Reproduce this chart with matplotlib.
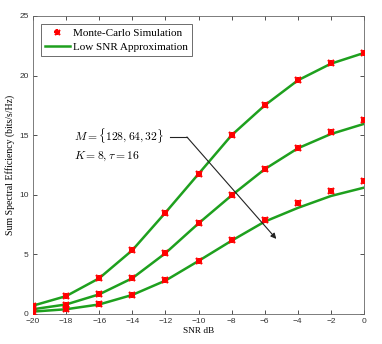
import matplotlib
matplotlib.use("Agg")
import matplotlib.pyplot as plt

snr_db = [-20, -18, -16, -14, -12, -10, -8, -6, -4, -2, 0]

# Monte-Carlo simulation, M = 128, 64, 32
mc_128 = [0.65, 1.5, 3.05, 5.37, 8.5, 11.75, 15.0, 17.53, 19.6, 21.08, 21.92]
mc_64 = [0.38, 0.78, 1.65, 3.0, 5.14, 7.6, 10.0, 12.2, 13.95, 15.27, 16.27]
mc_32 = [0.2, 0.4, 0.82, 1.6, 2.85, 4.45, 6.2, 7.86, 9.29, 10.35, 11.16]

# low SNR approximation
ap_128 = [0.7, 1.5, 3.0, 5.35, 8.5, 11.75, 15.0, 17.5, 19.6, 21.0, 21.9]
ap_64 = [0.4, 0.8, 1.65, 3.0, 5.1, 7.6, 9.95, 12.15, 13.9, 15.1, 15.95]
ap_32 = [0.2, 0.4, 0.8, 1.6, 2.8, 4.45, 6.15, 7.75, 8.9, 9.9, 10.6]

plt.rcParams['mathtext.fontset'] = 'cm'
serif = ['Liberation Serif', 'DejaVu Serif']
sans = ['Liberation Sans', 'DejaVu Sans']

fig = plt.figure(figsize=(3.82, 3.44), dpi=100)
ax = fig.add_axes([33/382, 30/344, 331/382, 298/344])

green = '#1ea01e'
for ap in [ap_128, ap_64, ap_32]:
    ax.plot(snr_db, ap, color=green, lw=1.8, zorder=2)
for mc in [mc_128, mc_64, mc_32]:
    ax.plot(snr_db, mc, ls='none', marker='+', ms=4.8, mew=1.6, color='red', zorder=3)
    ax.plot(snr_db, mc, ls='none', marker='x', ms=4, mew=1.6, color='red', zorder=3)

# legend proxies
mk1, = ax.plot([], [], ls='none', marker='+', ms=4.5, mew=1.5, color='red')
mk2, = ax.plot([], [], ls='none', marker='x', ms=3.6, mew=1.5, color='red')
ln, = ax.plot([], [], color=green, lw=1.8)
leg = ax.legend([(mk1, mk2), ln], ['Monte-Carlo Simulation', 'Low SNR Approximation'],
                loc='upper left', prop={'family': serif, 'size': 8},
                fancybox=False, edgecolor='#555555', framealpha=1,
                borderpad=0.4, handlelength=2.2, handletextpad=0.3,
                labelspacing=0.35, borderaxespad=0.7)
leg.get_frame().set_linewidth(0.6)

ax.text(-17.5, 14.9, r'$M=\{128,64,32\}$', fontsize=8.4, va='center')
ax.text(-17.5, 13.2, r'$K=8,\tau=16$', fontsize=8.4, va='center')
ax.plot([-11.7, -10.7], [14.85, 14.85], color='#222222', lw=0.8)
ax.annotate('', xy=(-5.3, 6.3), xytext=(-10.7, 14.85),
            arrowprops=dict(arrowstyle='-|>', color='#222222', lw=0.8,
                            mutation_scale=8, shrinkA=0, shrinkB=0))

ax.set_xlim(-20, 0)
ax.set_ylim(0, 25)
ax.set_xticks(snr_db)
ax.set_yticks([0, 5, 10, 15, 20, 25])
ax.tick_params(direction='in', top=True, right=True, labelsize=6,
               colors='#333333', length=3, width=0.6, pad=3)
for lab in ax.get_xticklabels() + ax.get_yticklabels():
    lab.set_family(sans)
for s in ax.spines.values():
    s.set_color('#666666')
    s.set_linewidth(0.6)
ax.set_xlabel('SNR dB', family=serif, fontsize=6.7, labelpad=1)
ax.set_ylabel('Sum Spectral Efficiency (bits/s/Hz)', family=serif, fontsize=7,
              labelpad=3)

fig.savefig('out.png', dpi=100)
